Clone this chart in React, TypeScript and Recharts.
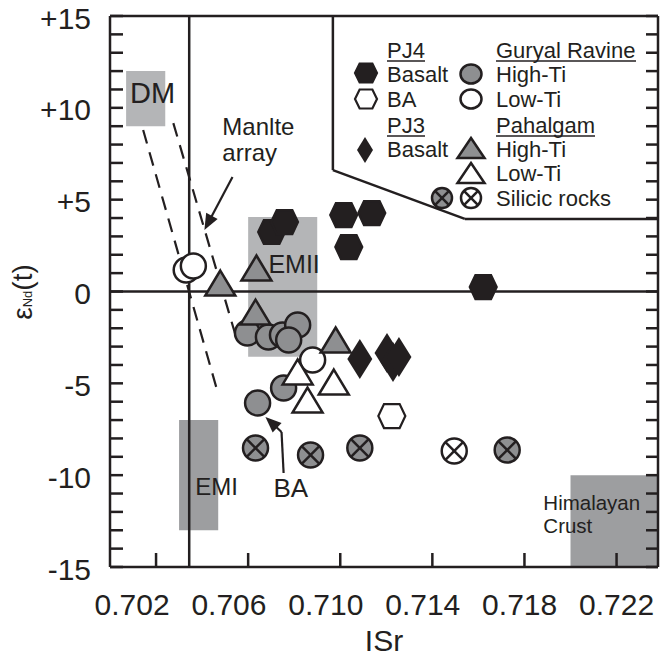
import React from "react";
import {
  ScatterChart,
  Scatter,
  XAxis,
  YAxis,
  ReferenceArea,
  ReferenceLine,
  ReferenceDot,
  Legend,
} from "recharts";

const ink = "#231f20";
const grey = "#8e8f91";
const lightField = "#b4b5b7";
const darkField = "#9d9ea0";
const font = "'Liberation Sans', Arial, Helvetica, sans-serif";

// [ISr, eNd(t)]
const pj4Basalt = [
  [0.70702, 3.24],
  [0.70758, 3.78],
  [0.71015, 4.16],
  [0.71137, 4.27],
  [0.71037, 2.42],
  [0.71621, 0.24],
];
const pj4BA = [[0.71224, -6.78]];
const pj3Basalt = [
  [0.71085, -3.67],
  [0.71203, -3.35],
  [0.71229, -3.84],
  [0.71255, -3.57],
];
const guryalHighTi = [
  [0.70597, -2.26],
  [0.70688, -2.48],
  [0.70749, -2.37],
  [0.70815, -1.82],
  [0.70776, -2.64],
  [0.70754, -5.25],
  [0.70641, -6.07],
];
const guryalLowTi = [
  [0.70331, 1.17],
  [0.70362, 1.39],
  [0.7088, -3.73],
];
const pahalgamHighTi = [
  [0.70636, 1.28],
  [0.70479, 0.46],
  [0.70632, -1.12],
  [0.7098, -2.64],
];
const pahalgamLowTi = [
  [0.70815, -4.38],
  [0.70972, -4.93],
  [0.70858, -5.91],
];
const silicicHighTi = [
  [0.70632, -8.52],
  [0.70871, -8.9],
  [0.71085, -8.52],
  [0.71725, -8.63],
];
const silicicLowTi = [[0.71495, -8.68]];

const isrTicks = [0.702, 0.706, 0.71, 0.714, 0.718, 0.722];
const endTicks = Array.from({ length: 31 }, (_, i) => i - 15);
const isrDomain = [0.7, 0.7238];
const endDomain = [-15, 15];

// fields: [x1, x2, y1, y2]
const dmField = [0.7007, 0.7024, 9, 12];
const emiiField = [0.706, 0.709, -3.55, 4.05];
const emiField = [0.703, 0.7047, -13, -7];
const crustField = [0.72, 0.7238, -15, -10];

const bulkEarthIsr = 0.70344;
const mantleArrayA = [[0.70144, 8.79], [0.70471, -5.63]];
const mantleArrayB = [[0.70275, 9.17], [0.70545, -2.37]];
const legendBorder = [[0.70968, 15], [0.70968, 6.61], [0.71541, 3.95], [0.7238, 3.95]];
const mantleArrow = [[0.70532, 6.23], [0.7041, 3.35]];
const baArrow = [[0.70754, -9.88], [0.70745, -7.65], [0.70675, -6.83]];

const toXY = (arr: number[][]) => arr.map(([x, y]) => ({ x, y }));
const seg = (a: number[], b: number[]) => [{ x: a[0], y: a[1] }, { x: b[0], y: b[1] }];

const fmtEnd = (v: number) => (v > 0 ? `+${v}` : `${v}`);

// ---------- marker shapes ----------
const hexPoints = (cx: number, cy: number, w: number, h: number) => {
  const a = w / 2, b = w * 0.29, c = h / 2;
  return `${cx - a},${cy} ${cx - b},${cy - c} ${cx + b},${cy - c} ${cx + a},${cy} ${cx + b},${cy + c} ${cx - b},${cy + c}`;
};
const Hex = ({ cx, cy, w = 27, h = 24, fill }: any) => (
  <polygon points={hexPoints(cx, cy, w, h)} fill={fill} stroke={ink} strokeWidth={2.2} />
);
const Diamond = ({ cx, cy, w = 25, h = 40 }: any) => (
  <polygon
    points={`${cx},${cy - h / 2} ${cx + w / 2},${cy} ${cx},${cy + h / 2} ${cx - w / 2},${cy}`}
    fill={ink}
  />
);
const Tri = ({ cx, cy, w = 30, h = 25, fill }: any) => (
  <polygon
    points={`${cx},${cy - h / 2} ${cx + w / 2},${cy + h / 2} ${cx - w / 2},${cy + h / 2}`}
    fill={fill}
    stroke={ink}
    strokeWidth={2.5}
    strokeLinejoin="miter"
  />
);
const Circ = ({ cx, cy, r = 12.5, ry, fill }: any) => (
  <ellipse cx={cx} cy={cy} rx={r} ry={ry ?? r} fill={fill} stroke={ink} strokeWidth={2.5} />
);
const XCirc = ({ cx, cy, r = 12.5, fill }: any) => {
  const d = r * 0.707;
  return (
    <g>
      <circle cx={cx} cy={cy} r={r} fill={fill} stroke={ink} strokeWidth={2.5} />
      <line x1={cx - d} y1={cy - d} x2={cx + d} y2={cy + d} stroke={ink} strokeWidth={2.5} />
      <line x1={cx - d} y1={cy + d} x2={cx + d} y2={cy - d} stroke={ink} strokeWidth={2.5} />
    </g>
  );
};

// ---------- axis ticks (all drawn inward) ----------
const LeftTick = (p: any) => {
  const v = p.payload.value;
  return (
    <g>
      <line x1={p.x} y1={p.y} x2={p.x + 13} y2={p.y} stroke={ink} strokeWidth={2.5} />
      {v % 5 === 0 && (
        <text x={p.x - 19} y={p.y + 2} textAnchor="end" dominantBaseline="central"
          fontFamily={font} fontSize={30} fill={ink}>
          {fmtEnd(v)}
        </text>
      )}
    </g>
  );
};
const RightTick = (p: any) => (
  <line x1={p.x} y1={p.y} x2={p.x - 12} y2={p.y} stroke={ink} strokeWidth={2.5} />
);
const BottomTick = (p: any) => {
  const v = p.payload.value;
  // the printed labels sit a little left of their tick marks
  const shift = -((0.722 - v) / 0.004) * 4.8;
  return (
    <g>
      <line x1={p.x} y1={p.y} x2={p.x} y2={p.y - 14} stroke={ink} strokeWidth={2.5} />
      <text x={p.x + shift} y={p.y + 48} textAnchor="middle" fontFamily={font} fontSize={30} fill={ink}>
        {v.toFixed(3)}
      </text>
    </g>
  );
};
const TopTick = (p: any) => (
  <line x1={p.x} y1={p.y} x2={p.x} y2={p.y + 14} stroke={ink} strokeWidth={2.5} />
);

const xTitle = (p: any) => {
  const vb = p.viewBox || { x: 110, width: 548 };
  return (
    <text x={vb.x + vb.width / 2} y={651} textAnchor="middle" fontFamily={font} fontSize={30} fill={ink}>
      ISr
    </text>
  );
};
const yTitle = () => {
  const cx = 32;
  const cy = 292;
  return (
    <text x={cx} y={cy} transform={`rotate(-90 ${cx} ${cy})`} textAnchor="middle"
      fontFamily={font} fontSize={28} fill={ink}>
      <tspan>ε</tspan>
      <tspan fontSize={13}>Nd</tspan>
      <tspan>(t)</tspan>
    </text>
  );
};

// ---------- annotations ----------
const note = (lines: string[], size: number, lh = 0, anchor = "start") => (p: any) => (
  <text x={p.cx} y={p.cy} textAnchor={anchor} fontFamily={font} fontSize={size} fill={ink}>
    {lines.map((l, i) => (
      <tspan key={l} x={p.cx} dy={i ? lh : 0}>{l}</tspan>
    ))}
  </text>
);

const arrow = (head: boolean) => (p: any) => {
  const { x1, y1, x2, y2 } = p;
  if (!head) return <line x1={x1} y1={y1} x2={x2} y2={y2} stroke={ink} strokeWidth={2.2} />;
  const dx = x2 - x1, dy = y2 - y1;
  const len = Math.hypot(dx, dy) || 1;
  const ux = dx / len, uy = dy / len;
  const hl = 16, hw = 6.5;
  const bx = x2 - ux * hl, by = y2 - uy * hl;
  return (
    <g>
      <line x1={x1} y1={y1} x2={bx + ux * 3} y2={by + uy * 3} stroke={ink} strokeWidth={2.2} />
      <polygon points={`${x2},${y2} ${bx - uy * hw},${by + ux * hw} ${bx + uy * hw},${by - ux * hw}`} fill={ink} />
    </g>
  );
};

// ---------- legend ----------
const LegendBox = () => {
  const t = (x: number, y: number, s: string) => (
    <text x={x} y={y} fontFamily={font} fontSize={22} fill={ink}>{s}</text>
  );
  const u = (x1: number, x2: number, y: number) => (
    <line x1={x1} y1={y} x2={x2} y2={y} stroke={ink} strokeWidth={1.4} />
  );
  return (
    <svg width={320} height={190} style={{ overflow: "visible" }}>
      {t(47, 22, "PJ4")}
      {u(47, 85, 25)}
      <Hex cx={26} cy={37} w={22} h={19} fill={ink} />
      {t(47, 46, "Basalt")}
      <Hex cx={26} cy={63} w={22} h={19} fill="#fff" />
      {t(47, 71, "BA")}
      {t(47, 97, "PJ3")}
      {u(47, 85, 100)}
      <Diamond cx={25} cy={114} w={16} h={26} />
      {t(47, 121, "Basalt")}

      {t(156, 22, "Guryal Ravine")}
      {u(156, 296, 25)}
      <Circ cx={131} cy={38} r={10.5} ry={9.5} fill={grey} />
      {t(156, 46, "High-Ti")}
      <Circ cx={131} cy={63} r={10.5} ry={9.5} fill="#fff" />
      {t(156, 71, "Low-Ti")}
      {t(156, 97, "Pahalgam")}
      {u(156, 255, 100)}
      <Tri cx={131} cy={112} w={27} h={20} fill={grey} />
      {t(156, 121, "High-Ti")}
      <Tri cx={131} cy={137} w={27} h={20} fill="#fff" />
      {t(156, 145, "Low-Ti")}
      <XCirc cx={102} cy={162} r={10} fill={grey} />
      <XCirc cx={131} cy={162} r={10} fill="#fff" />
      {t(156, 170, "Silicic rocks")}
    </svg>
  );
};

const axisLine = { stroke: ink, strokeWidth: 2.5 };

export default function App() {
  return (
    <div style={{ position: "absolute", left: 0, top: 0, width: 660, height: 660, background: "#fff" }}>
      <ScatterChart width={660} height={660} margin={{ top: 15, right: 1, bottom: 0, left: 10 }}>
        <XAxis
          type="number"
          dataKey="x"
          domain={isrDomain}
          allowDataOverflow
          ticks={isrTicks}
          interval={0}
          tickSize={0}
          tickMargin={0}
          tickLine={false}
          tick={(p: any) => <BottomTick {...p} />}
          axisLine={axisLine}
          height={93}
          label={{ content: xTitle }}
        />
        <XAxis
          xAxisId="top"
          orientation="top"
          type="number"
          domain={isrDomain}
          allowDataOverflow
          ticks={isrTicks}
          interval={0}
          tickSize={0}
          tickMargin={0}
          tickLine={false}
          tick={(p: any) => <TopTick {...p} />}
          axisLine={axisLine}
          height={1}
        />
        <YAxis
          type="number"
          dataKey="y"
          domain={endDomain}
          allowDataOverflow
          ticks={endTicks}
          interval={0}
          tickSize={0}
          tickMargin={0}
          tickLine={false}
          tick={(p: any) => <LeftTick {...p} />}
          axisLine={axisLine}
          width={100}
          label={{ content: yTitle }}
        />
        <YAxis
          yAxisId="right"
          orientation="right"
          type="number"
          domain={endDomain}
          allowDataOverflow
          ticks={endTicks}
          interval={0}
          tickSize={0}
          tickMargin={0}
          tickLine={false}
          tick={(p: any) => <RightTick {...p} />}
          axisLine={axisLine}
          width={1}
        />

        <ReferenceArea x1={dmField[0]} x2={dmField[1]} y1={dmField[2]} y2={dmField[3]} fill={lightField} fillOpacity={1} stroke="none" />
        <ReferenceArea x1={emiiField[0]} x2={emiiField[1]} y1={emiiField[2]} y2={emiiField[3]} fill={lightField} fillOpacity={1} stroke="none" />
        <ReferenceArea x1={emiField[0]} x2={emiField[1]} y1={emiField[2]} y2={emiField[3]} fill={darkField} fillOpacity={1} stroke="none" />
        <ReferenceArea x1={crustField[0]} x2={crustField[1]} y1={crustField[2]} y2={crustField[3]} fill={darkField} fillOpacity={1} stroke="none" />

        <ReferenceLine y={0} stroke={ink} strokeWidth={2.5} />
        <ReferenceLine x={bulkEarthIsr} stroke={ink} strokeWidth={2.5} />
        <ReferenceLine segment={seg(mantleArrayA[0], mantleArrayA[1])} stroke={ink} strokeWidth={2.2} strokeDasharray="14 9" />
        <ReferenceLine segment={seg(mantleArrayB[0], mantleArrayB[1])} stroke={ink} strokeWidth={2.2} strokeDasharray="14 9" />
        {legendBorder.slice(1).map((pt, i) => (
          <ReferenceLine key={`lb${i}`} segment={seg(legendBorder[i], pt)} stroke={ink} strokeWidth={2.5} />
        ))}
        <ReferenceLine segment={seg(mantleArrow[0], mantleArrow[1])} shape={arrow(true)} />
        <ReferenceLine segment={seg(baArrow[0], baArrow[1])} shape={arrow(false)} />
        <ReferenceLine segment={seg(baArrow[1], baArrow[2])} shape={arrow(true)} />

        <ReferenceDot x={0.70185} y={10.26} r={1} shape={note(["DM"], 29, 0, "middle")} />
        <ReferenceDot x={0.70488} y={8.52} r={1} shape={note(["Manlte", "array"], 24, 26)} />
        <ReferenceDot x={0.70688} y={1.01} r={1} shape={note(["EMII"], 25)} />
        <ReferenceDot x={0.7037} y={-11.08} r={1} shape={note(["EMI"], 24)} />
        <ReferenceDot x={0.7071} y={-11.19} r={1} shape={note(["BA"], 26)} />
        <ReferenceDot x={0.71882} y={-11.89} r={1} shape={note(["Himalayan", "Crust"], 20.5, 23)} />

        <Scatter data={toXY(pj4Basalt)} isAnimationActive={false} shape={(p: any) => <Hex cx={p.cx} cy={p.cy} fill={ink} />} />
        <Scatter data={toXY(pj4BA)} isAnimationActive={false} shape={(p: any) => <Hex cx={p.cx} cy={p.cy} fill="#fff" />} />
        <Scatter data={toXY(pj3Basalt)} isAnimationActive={false} shape={(p: any) => <Diamond cx={p.cx} cy={p.cy} />} />
        <Scatter data={toXY(guryalHighTi)} isAnimationActive={false} shape={(p: any) => <Circ cx={p.cx} cy={p.cy} fill={grey} />} />
        <Scatter data={toXY(guryalLowTi)} isAnimationActive={false} shape={(p: any) => <Circ cx={p.cx} cy={p.cy} fill="#fff" />} />
        <Scatter data={toXY(pahalgamHighTi)} isAnimationActive={false} shape={(p: any) => <Tri cx={p.cx} cy={p.cy} fill={grey} />} />
        <Scatter data={toXY(pahalgamLowTi)} isAnimationActive={false} shape={(p: any) => <Tri cx={p.cx} cy={p.cy} fill="#fff" />} />
        <Scatter data={toXY(silicicHighTi)} isAnimationActive={false} shape={(p: any) => <XCirc cx={p.cx} cy={p.cy} fill={grey} />} />
        <Scatter data={toXY(silicicLowTi)} isAnimationActive={false} shape={(p: any) => <XCirc cx={p.cx} cy={p.cy} fill="#fff" />} />

        <Legend
          layout="vertical"
          align="center"
          verticalAlign="middle"
          content={() => <LegendBox />}
          wrapperStyle={{ left: 340, top: 36, width: 320, height: 190 }}
        />
      </ScatterChart>
    </div>
  );
}
